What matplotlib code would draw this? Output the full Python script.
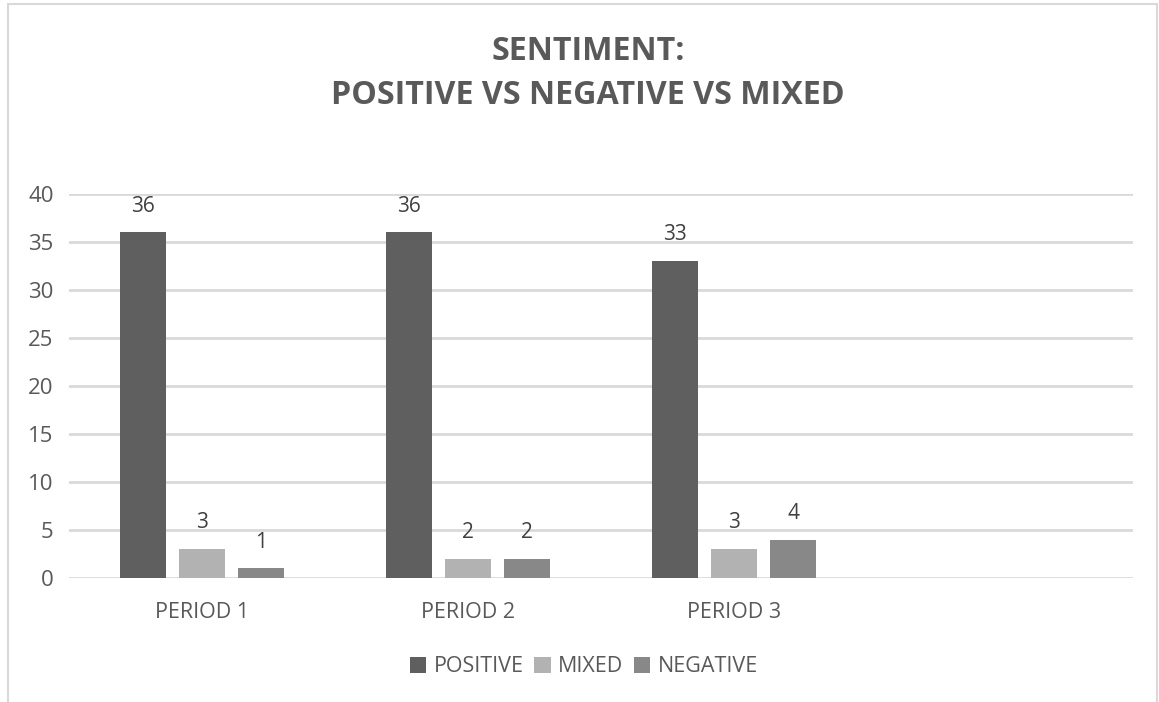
import matplotlib
matplotlib.use("Agg")
import matplotlib.pyplot as plt
import numpy as np
from matplotlib.patches import Rectangle, Patch

plt.rcParams['font.family'] = ['Open Sans', 'DejaVu Sans']

# Chart data
periods = ["PERIOD 1", "PERIOD 2", "PERIOD 3", ""]
series_names = ["POSITIVE", "MIXED", "NEGATIVE"]
positive = [36, 36, 33, None]
mixed = [3, 2, 3, None]
negative = [1, 2, 4, None]
colors = ["#5f5f5f", "#b2b2b2", "#888888"]

W, H = 1159, 702
fig = plt.figure(figsize=(W / 100, H / 100), dpi=100)
fig.patch.set_facecolor("white")

# chart frame
fig.patches.append(Rectangle((8 / W, -0.05), (1157 - 8) / W, 1 + 0.05 - 4 / H,
                             transform=fig.transFigure, fill=False,
                             edgecolor="#d9d9d9", linewidth=1.5))

ax = fig.add_axes([69 / W, 1 - 578 / H, (1133 - 69) / W, (578 - 194) / H])

x = np.arange(len(periods)) + 0.5
bar_w = 0.173
step = 0.222
for i, (vals, name, c) in enumerate(zip([positive, mixed, negative], series_names, colors)):
    xs = [xi + (i - 1) * step for xi, v in zip(x, vals) if v is not None]
    vs = [v for v in vals if v is not None]
    bars = ax.bar(xs, vs, width=bar_w, color=c, label=name, zorder=3)
    for b, v in zip(bars, vs):
        ax.annotate(str(v), (b.get_x() + b.get_width() / 2, v),
                    xytext=(0, 19), textcoords="offset points",
                    ha="center", va="center", fontsize=15, color="#404040")

ax.set_xlim(0, len(periods))
ax.set_ylim(0, 40)
ax.set_yticks(range(0, 41, 5))
ax.set_xticks(x[:3])
ax.set_xticklabels(periods[:3])
ax.tick_params(axis="both", length=0, colors="#595959")
ax.tick_params(axis="y", pad=11, labelsize=16)
ax.tick_params(axis="x", pad=17, labelsize=15.5)
ax.grid(axis="y", color="#d9d9d9", linewidth=2, zorder=0)
for s in ax.spines.values():
    s.set_visible(False)

fig.text(588 / W, 1 - 52 / H, "SENTIMENT:", ha="center", va="center",
         fontsize=23.2, fontweight="bold", color="#595959")
fig.text(588 / W, 1 - 95 / H, "POSITIVE VS NEGATIVE VS MIXED", ha="center", va="center",
         fontsize=23.2, fontweight="bold", color="#595959")

handles = [Patch(facecolor=c, label=n) for c, n in zip(colors, series_names)]
fig.legend(handles=handles, loc="center", bbox_to_anchor=(584 / W, 1 - 667 / H),
           ncol=3, frameon=False, fontsize=15.5, handlelength=0.75, handleheight=0.75,
           handletextpad=0.35, columnspacing=0.5, labelcolor="#595959")

fig.savefig("out.png", dpi=100)
